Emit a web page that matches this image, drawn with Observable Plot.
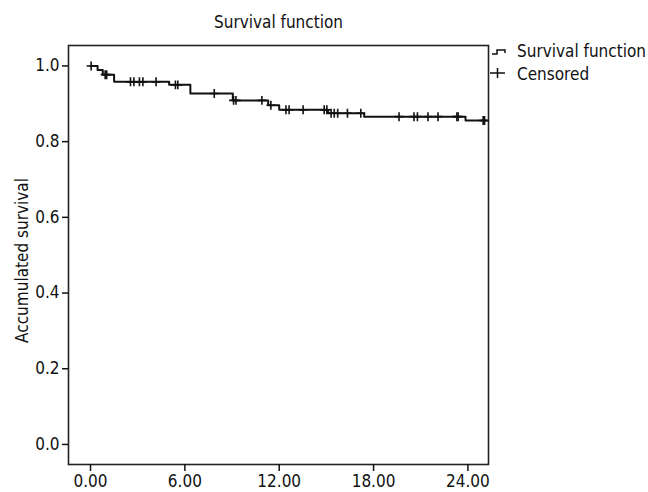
<!DOCTYPE html>
<html><head><meta charset="utf-8">
<script src="https://cdn.jsdelivr.net/npm/d3@7"></script>
<script src="https://cdn.jsdelivr.net/npm/@observablehq/plot@0.6"></script>
<style>
body{margin:0;background:#fff;}
#chart{position:relative;width:648px;height:492px;}
#chart svg{font-family:"Liberation Sans Narrow","Arial Narrow","DejaVu Sans Condensed",sans-serif;}
</style></head><body><div id="chart"></div>
<script>
const title = "Survival function";
const yLabel = "Accumulated survival";
const legendLabels = ["Survival function", "Censored"];
const xTicks = [0, 6, 12, 18, 24];
const yTicks = [0, 0.2, 0.4, 0.6, 0.8, 1.0];
// Kaplan-Meier step curve: times at which survival changes, and survival after each change
const stepTimes = [0, 0.45, 0.78, 1.5, 5.0, 6.35, 9.05, 11.3, 12.0, 15.1, 17.4, 23.85, 25.2];
const stepSurv  = [1.0, 0.989, 0.977, 0.958, 0.950, 0.927, 0.909, 0.896, 0.884, 0.875, 0.866, 0.856, 0.856];
// censored observation times
const censorTimes = [0.04, 0.93, 1.03, 2.54, 2.76, 3.11, 3.33, 4.17, 5.4, 5.55, 7.87, 9.1, 9.25, 10.9, 11.47,
  12.43, 12.63, 13.52, 14.86, 15.03, 15.3, 15.5, 15.72, 16.34, 17.19, 19.62, 20.57, 20.79, 21.46, 22.1,
  23.3, 23.38, 24.97, 25.06];

const steps = stepTimes.map((t, i) => ({t, s: stepSurv[i]}));
const survAt = t => stepSurv[Math.max(0, d3.bisectRight(stepTimes, t) - 1)];
const censored = censorTimes.map(t => ({t, s: survAt(t)}));

function legendMark(index, scales, values, dims) {
  const x0 = dims.width - dims.marginRight;
  const y0 = dims.marginTop;
  const g = d3.create("svg:g").attr("fill", "none").attr("stroke", "#111").attr("stroke-width", 1.5);
  g.append("path").attr("d", `M${x0+4},${y0+9}H${x0+9}V${y0+5}H${x0+17}V${y0+8}`);
  g.append("path").attr("d", `M${x0+2},${y0+28}H${x0+17}M${x0+9.5},${y0+23}V${y0+33}`);
  legendLabels.forEach((lab, i) => {
    g.append("text").attr("x", x0 + 29).attr("y", y0 + 6 + i * 23).attr("dy", "0.35em")
      .attr("text-anchor", "start").attr("fill", "#111").attr("stroke", "none")
      .attr("font-size", 17).text(lab);
  });
  return g.node();
}

function yLabelMark(index, scales, values, dims) {
  const cy = (dims.marginTop + dims.height - dims.marginBottom) / 2 + 6;
  return d3.create("svg:text")
    .attr("transform", `translate(22,${cy}) rotate(-90)`)
    .attr("text-anchor", "middle").attr("dy", "0.35em")
    .attr("fill", "#111").attr("font-size", 17).text(yLabel).node();
}

const plot = Plot.plot({
  width: 648, height: 492,
  marginLeft: 68, marginRight: 160, marginTop: 45, marginBottom: 28,
  style: {fontSize: "17px", color: "#111", background: "#fff", overflow: "visible"},
  x: {domain: [-1.4, 25.31], label: null},
  y: {domain: [-0.053, 1.054], label: null},
  marks: [
    Plot.frame({stroke: "#222", strokeWidth: 1.6}),
    Plot.axisX(xTicks, {tickFormat: d3.format(".2f"), tickSize: 7, tickPadding: 3, strokeWidth: 1.5, fontSize: 17}),
    Plot.axisY(yTicks, {tickFormat: d3.format(".1f"), tickSize: 6, tickPadding: 3, strokeWidth: 1.5, fontSize: 17}),
    Plot.line(steps, {x: "t", y: "s", curve: "step-after", stroke: "#111", strokeWidth: 2}),
    Plot.dot(censored, {x: "t", y: "s", symbol: "plus", r: 3, stroke: "#111", strokeWidth: 1.6}),
    Plot.text([title], {frameAnchor: "top", lineAnchor: "middle", dy: -23, fontSize: 17, fill: "#111"}),
    yLabelMark,
    legendMark
  ]
});
document.getElementById("chart").appendChild(plot);
</script>
</body></html>
